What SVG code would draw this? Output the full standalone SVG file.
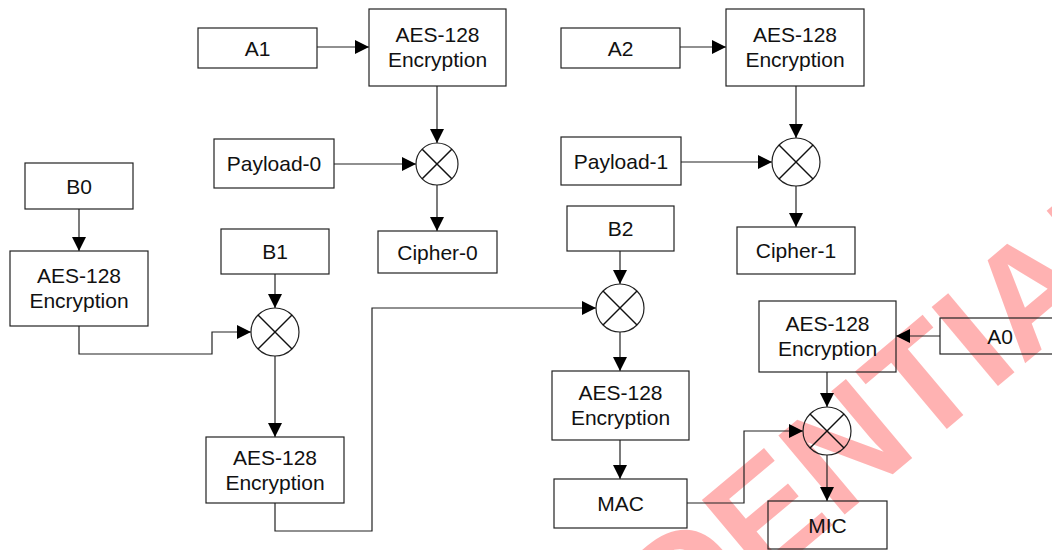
<svg xmlns="http://www.w3.org/2000/svg" width="1052" height="550" viewBox="0 0 1052 550">
<style>
.box{fill:none;stroke:#222;stroke-width:1.2}
.xor circle{fill:none;stroke:#222;stroke-width:1.2}
.xor line{stroke:#111;stroke-width:1.5}
.t{font-family:"Liberation Sans",Arial,sans-serif;font-size:21px;fill:#111;text-anchor:middle}
.c path{fill:none;stroke:#222;stroke-width:1.2;marker-end:url(#ah)}
.wm{font-family:"Liberation Sans",Arial,sans-serif;font-weight:bold;font-size:150px;fill:#ff0000;fill-opacity:0.3}
</style>
<defs>
<marker id="ah" markerUnits="userSpaceOnUse" markerWidth="15" markerHeight="14" refX="14" refY="7" orient="auto">
<path d="M0,0 L14,7 L0,14 z" fill="#000"/>
</marker>
</defs>
<rect width="1052" height="550" fill="#fff"/>
<text class="wm" transform="translate(320,955) rotate(-40)">CONFIDENTIAL</text>

<g class="c" id="connectors">
<path d="M317,47 H369"/>
<path d="M437,86 V143"/>
<path d="M334,164 H416"/>
<path d="M437,185 V231"/>
<path d="M680,47 H726"/>
<path d="M796,86 V138"/>
<path d="M681,162 H772"/>
<path d="M796,186 V227"/>
<path d="M79,209 V251"/>
<path d="M275,274 V308"/>
<path d="M79,326 V354 H212 V332 H251"/>
<path d="M275,356 V437"/>
<path d="M275,503 V531 H372 V308 H596"/>
<path d="M620,251 V284"/>
<path d="M620,332 V371"/>
<path d="M620,440 V479"/>
<path d="M940,336 H896"/>
<path d="M827,372 V407"/>
<path d="M687,503 H744 V431 H803"/>
<path d="M827,455 V501"/>
</g>

<g id="A1"><rect class="box" x="198" y="28" width="119" height="40"/><text class="t" x="257.5" y="55.5">A1</text></g>
<g id="AES_T1"><rect class="box" x="369" y="9" width="137" height="77"/><text class="t" x="437.5" y="42">AES-128</text><text class="t" x="437.5" y="67">Encryption</text></g>
<g id="Payload0"><rect class="box" x="214" y="139" width="120" height="49"/><text class="t" x="274" y="171">Payload-0</text></g>
<g id="X1" class="xor"><circle cx="437" cy="164" r="21"/><line x1="422.2" y1="149.2" x2="451.8" y2="178.8"/><line x1="451.8" y1="149.2" x2="422.2" y2="178.8"/></g>
<g id="Cipher0"><rect class="box" x="378" y="231" width="119" height="42"/><text class="t" x="437.5" y="259.5">Cipher-0</text></g>

<g id="A2"><rect class="box" x="561" y="28" width="119" height="40"/><text class="t" x="620.5" y="55.5">A2</text></g>
<g id="AES_T2"><rect class="box" x="726" y="9" width="138" height="77"/><text class="t" x="795" y="42">AES-128</text><text class="t" x="795" y="67">Encryption</text></g>
<g id="Payload1"><rect class="box" x="561" y="137" width="120" height="48"/><text class="t" x="621" y="168.5">Payload-1</text></g>
<g id="X2" class="xor"><circle cx="796" cy="162" r="24"/><line x1="779" y1="145" x2="813" y2="179"/><line x1="813" y1="145" x2="779" y2="179"/></g>
<g id="Cipher1"><rect class="box" x="737" y="227" width="118" height="47"/><text class="t" x="796" y="258">Cipher-1</text></g>

<g id="B0"><rect class="box" x="25" y="163" width="108" height="46"/><text class="t" x="79" y="193.5">B0</text></g>
<g id="AES_L"><rect class="box" x="10" y="251" width="138" height="75"/><text class="t" x="79" y="283">AES-128</text><text class="t" x="79" y="308">Encryption</text></g>
<g id="B1"><rect class="box" x="221" y="229" width="108" height="45"/><text class="t" x="275" y="259">B1</text></g>
<g id="X3" class="xor"><circle cx="275" cy="332" r="24"/><line x1="258" y1="315" x2="292" y2="349"/><line x1="292" y1="315" x2="258" y2="349"/></g>
<g id="AES_M"><rect class="box" x="206" y="437" width="138" height="66"/><text class="t" x="275" y="464.5">AES-128</text><text class="t" x="275" y="489.5">Encryption</text></g>

<g id="B2"><rect class="box" x="567" y="206" width="107" height="45"/><text class="t" x="620.5" y="236">B2</text></g>
<g id="X4" class="xor"><circle cx="620" cy="308" r="24"/><line x1="603" y1="291" x2="637" y2="325"/><line x1="637" y1="291" x2="603" y2="325"/></g>
<g id="AES_B"><rect class="box" x="552" y="371" width="137" height="69"/><text class="t" x="620.5" y="400">AES-128</text><text class="t" x="620.5" y="425">Encryption</text></g>
<g id="MAC"><rect class="box" x="554" y="479" width="133" height="49"/><text class="t" x="620.5" y="511">MAC</text></g>

<g id="AES_R"><rect class="box" x="759" y="301" width="137" height="71"/><text class="t" x="827.5" y="331">AES-128</text><text class="t" x="827.5" y="356">Encryption</text></g>
<g id="A0"><rect class="box" x="940" y="318" width="120" height="36"/><text class="t" x="1000" y="343.5">A0</text></g>
<g id="X5" class="xor"><circle cx="827" cy="431" r="24"/><line x1="810" y1="414" x2="844" y2="448"/><line x1="844" y1="414" x2="810" y2="448"/></g>
<g id="MIC"><rect class="box" x="768" y="501" width="119" height="48"/><text class="t" x="827.5" y="532.5">MIC</text></g>
</svg>
